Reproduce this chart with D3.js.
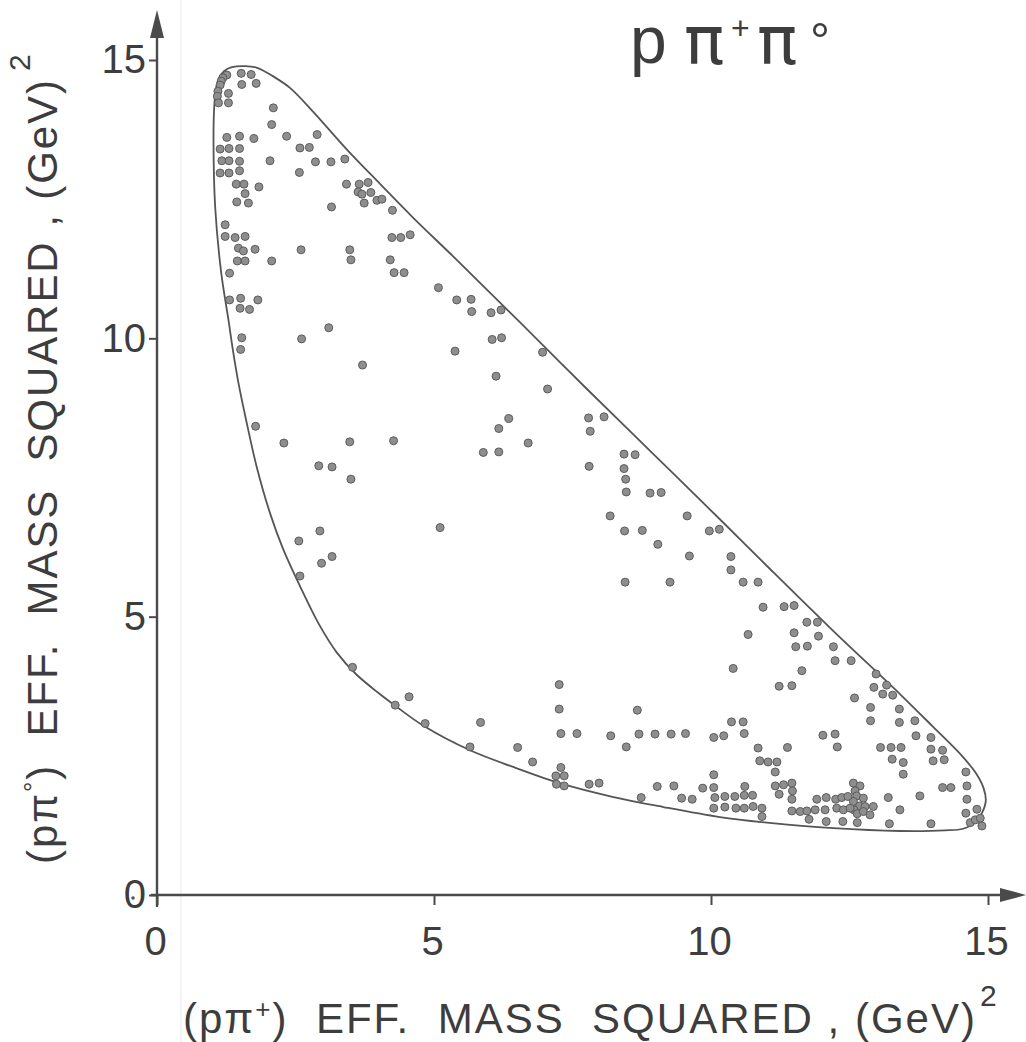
<!DOCTYPE html>
<html>
<head>
<meta charset="utf-8">
<script src="https://cdn.jsdelivr.net/npm/d3@7"></script>
<style>
  html, body { margin: 0; padding: 0; background: #ffffff; }
  svg { display: block; }
  text { font-family: "Liberation Sans", Arial, sans-serif; fill: #3d3d3d; }
</style>
</head>
<body>
<svg id="chart" width="1026" height="1042"></svg>
<script>
// Axis ticks, (GeV)^2
const axisTicks = [0, 5, 10, 15];

// Events: [ M^2(p pi+), M^2(p pi0) ] in (GeV)^2
const events = [
  [1.26,14.73],[1.19,14.68],[1.16,14.62],[1.14,14.55],[1.10,14.44],[1.09,14.35],[1.11,14.23],
  [1.29,14.40],[1.29,14.23],[1.52,14.76],[1.70,14.74],[1.53,14.56],[1.79,14.58],[2.10,14.14],
  [2.07,13.84],[1.26,13.61],[1.49,13.63],[1.75,13.59],[2.34,13.63],[2.89,13.66],[2.58,13.42],
  [2.75,13.43],[1.14,13.40],[1.30,13.41],[1.49,13.41],[1.17,13.19],[1.30,13.19],[1.49,13.18],
  [2.04,13.19],[2.86,13.17],[3.14,13.17],[3.39,13.22],[1.14,12.97],[1.30,12.97],[1.49,13.01],
  [2.57,12.98],[1.43,12.77],[1.57,12.77],[1.84,12.72],[1.59,12.60],[1.44,12.45],[1.65,12.43],
  [3.42,12.77],[3.65,12.77],[3.81,12.80],[3.63,12.63],[3.70,12.59],[3.86,12.62],[3.74,12.43],
  [3.97,12.48],[4.06,12.50],[3.15,12.36],[4.25,12.30],[1.23,12.04],[1.23,11.83],[1.41,11.81],
  [1.59,11.83],[4.24,11.81],[4.40,11.81],[4.57,11.86],[1.47,11.62],[1.56,11.57],[1.77,11.60],
  [2.60,11.59],[3.48,11.59],[3.50,11.41],[1.45,11.39],[1.59,11.39],[2.07,11.39],[4.21,11.41],
  [4.28,11.18],[4.46,11.18],[1.31,11.17],[5.08,10.91],[5.41,10.69],[1.31,10.69],[1.51,10.72],
  [1.82,10.69],[1.50,10.54],[1.67,10.52],[3.10,10.19],[1.53,10.01],[2.61,9.99],[1.51,9.80],
  [5.38,9.77],[3.71,9.52],[1.78,8.42],[2.29,8.12],[3.48,8.14],[4.27,8.16],[2.92,7.71],
  [3.16,7.69],[3.50,7.47],[5.11,6.60],[2.94,6.54],[2.56,6.36],[3.16,6.08],[2.97,5.96],
  [2.58,5.73],[5.67,10.70],[5.68,10.48],[6.03,10.46],[6.21,10.51],[6.05,9.98],[6.22,10.01],
  [6.96,9.75],[6.12,9.32],[7.05,9.09],[6.35,8.56],[6.17,8.38],[6.70,8.12],[5.89,7.95],
  [6.17,7.96],[7.79,8.57],[8.07,8.59],[7.82,8.33],[7.80,7.70],[8.43,7.92],[8.63,7.91],
  [8.43,7.66],[8.46,7.47],[8.47,7.24],[8.90,7.22],[9.10,7.23],[8.18,6.81],[9.57,6.81],
  [8.44,6.54],[8.76,6.55],[9.97,6.54],[10.15,6.57],[9.04,6.30],[9.61,6.09],[10.36,6.08],
  [10.36,5.84],[10.58,5.62],[10.85,5.62],[10.94,5.17],[11.32,5.18],[11.50,5.20],[11.73,4.90],
  [11.92,4.90],[10.67,4.68],[11.50,4.71],[11.94,4.65],[11.53,4.46],[11.74,4.47],[12.21,4.46],
  [12.24,4.21],[12.53,4.21],[10.40,4.07],[11.64,4.03],[12.98,3.97],[12.94,3.73],[13.17,3.77],
  [13.10,3.61],[13.28,3.59],[11.23,3.75],[11.46,3.76],[12.59,3.54],[12.88,3.37],[13.40,3.34],
  [12.88,3.13],[13.40,3.10],[13.68,3.13],[10.37,3.11],[10.58,3.11],[10.05,2.83],[10.23,2.86],
  [10.60,2.90],[13.70,2.86],[13.97,2.83],[12.02,2.87],[12.24,2.89],[10.85,2.64],[11.38,2.65],
  [12.28,2.66],[13.06,2.65],[13.25,2.65],[13.43,2.65],[13.97,2.62],[14.18,2.60],[13.27,2.44],
  [13.47,2.38],[10.88,2.41],[11.03,2.39],[11.19,2.39],[14.01,2.41],[14.21,2.43],[11.16,2.21],
  [13.47,2.17],[10.05,2.16],[14.60,2.21],[9.85,1.92],[10.05,1.93],[10.61,1.95],[11.16,1.96],
  [11.31,1.98],[11.46,2.01],[11.47,1.87],[11.46,1.72],[11.23,1.81],[12.57,2.01],[12.69,1.96],
  [12.60,1.87],[12.63,1.78],[12.57,1.68],[12.68,1.60],[12.58,1.53],[12.64,1.46],[11.91,1.72],
  [12.08,1.75],[12.25,1.72],[12.36,1.75],[12.47,1.77],[13.77,1.78],[13.20,1.75],[14.18,1.93],
  [14.33,1.93],[14.62,1.96],[14.62,1.72],[10.07,1.75],[10.25,1.77],[10.43,1.77],[10.60,1.79],
  [10.75,1.79],[10.05,1.56],[10.25,1.58],[10.45,1.56],[10.60,1.56],[10.76,1.59],[10.92,1.56],
  [10.92,1.41],[11.46,1.51],[11.61,1.50],[11.73,1.51],[11.88,1.53],[12.06,1.53],[12.27,1.56],
  [12.39,1.53],[12.51,1.56],[12.78,1.59],[12.93,1.59],[12.75,1.50],[12.87,1.44],[12.75,1.74],
  [13.41,1.53],[14.60,1.47],[14.80,1.54],[11.77,1.36],[12.08,1.32],[12.38,1.32],[12.64,1.30],
  [13.22,1.28],[13.97,1.28],[14.68,1.30],[14.77,1.35],[14.86,1.38],[14.89,1.24],[4.30,3.41],
  [4.55,3.56],[4.84,3.08],[5.84,3.10],[5.65,2.66],[6.51,2.65],[6.78,2.39],[7.26,3.78],
  [7.26,3.34],[7.29,2.90],[7.58,2.90],[7.29,2.29],[7.20,2.14],[7.35,2.14],[7.21,1.99],
  [7.35,1.96],[7.80,1.99],[7.98,2.01],[8.19,2.86],[8.47,2.66],[8.67,3.32],[8.70,2.89],
  [8.99,2.89],[9.28,2.89],[9.54,2.90],[8.74,1.75],[9.03,1.95],[9.33,1.96],[9.47,1.74],
  [9.66,1.72],[3.53,4.09],[8.45,5.62],[9.26,5.62]
];

// Kinematic boundary of the p pi+ pi0 Dalitz plot, (GeV)^2, traced clockwise
const boundary = [
  [1.02,13.56],[1.03,14.10],[1.06,14.46],[1.12,14.68],[1.21,14.80],[1.35,14.87],[1.59,14.89],
  [1.81,14.86],[2.09,14.71],[2.40,14.50],[2.82,14.07],[3.42,13.40],[4.03,12.77],[4.63,12.16],
  [5.41,11.41],[6.55,10.29],[7.76,9.09],[8.96,7.92],[10.16,6.75],[11.01,5.91],[12.21,4.74],
  [13.41,3.61],[14.01,3.02],[14.53,2.50],[14.78,2.19],[14.92,1.92],[14.96,1.69],[14.89,1.47],
  [14.77,1.30],[14.55,1.19],[14.22,1.16],[13.41,1.15],[12.21,1.20],[11.01,1.30],[10.16,1.40],
  [9.14,1.58],[8.24,1.76],[7.27,2.01],[6.43,2.30],[5.65,2.60],[4.81,3.04],[4.30,3.40],
  [3.97,3.65],[3.59,3.97],[3.25,4.35],[2.92,4.87],[2.58,5.55],[2.27,6.23],[2.04,6.86],
  [1.80,7.69],[1.62,8.48],[1.47,9.20],[1.37,9.79],[1.29,10.33],[1.16,11.17],[1.05,12.36]
];

const ink = "#4a4a4a";
const svg = d3.select("#chart");

const x = d3.scaleLinear().domain([0, 15]).range([157, 988]);
const y = d3.scaleLinear().domain([0, 15]).range([895, 60]);

// faint vertical crease in the paper
svg.append("line")
  .attr("x1", 181).attr("x2", 181).attr("y1", 0).attr("y2", 1042)
  .attr("stroke", "#ececec").attr("stroke-width", 1.2);

// axis lines with arrowheads
svg.append("line")
  .attr("x1", x(0) - 6).attr("x2", 1008)
  .attr("y1", y(0)).attr("y2", y(0))
  .attr("stroke", ink).attr("stroke-width", 2.4);
svg.append("line")
  .attr("x1", x(0)).attr("x2", x(0))
  .attr("y1", y(0) + 12).attr("y2", 30)
  .attr("stroke", ink).attr("stroke-width", 2.4);
svg.append("path")
  .attr("d", `M1026,${y(0)} L1000,${y(0) - 7} L1000,${y(0) + 7} Z`)
  .attr("fill", ink);
svg.append("path")
  .attr("d", `M${x(0)},10 L${x(0) - 7},38 L${x(0) + 7},38 Z`)
  .attr("fill", ink);

// tick marks and labels
const xAxis = svg.append("g")
  .attr("transform", `translate(0,${y(0)})`)
  .call(d3.axisBottom(x).tickValues(axisTicks).tickSize(10).tickPadding(22).tickFormat(d3.format("d")));
const yAxis = svg.append("g")
  .attr("transform", `translate(${x(0)},0)`)
  .call(d3.axisLeft(y).tickValues(axisTicks).tickSize(8).tickPadding(3).tickFormat(d3.format("d")));
[xAxis, yAxis].forEach(g => {
  g.select(".domain").remove();
  g.selectAll(".tick line").attr("stroke", ink).attr("stroke-width", 2);
  g.selectAll(".tick text")
    .attr("font-size", 40)
    .attr("fill", "#3d3d3d");
});
xAxis.selectAll(".tick text").attr("x", -2);
// small dot printed before the vertical-axis zero
svg.append("circle").attr("cx", 133).attr("cy", y(0) + 3).attr("r", 1.8).attr("fill", "#555");

// Dalitz boundary
svg.append("path")
  .datum(boundary)
  .attr("d", d3.line()
    .x(d => x(d[0]))
    .y(d => y(d[1]))
    .curve(d3.curveCatmullRomClosed.alpha(0.5)))
  .attr("fill", "none")
  .attr("stroke", "#555")
  .attr("stroke-width", 1.8);

// events
svg.append("g")
  .selectAll("circle")
  .data(events)
  .join("circle")
  .attr("cx", d => x(d[0]))
  .attr("cy", d => y(d[1]))
  .attr("r", 4)
  .attr("fill", "#8e8e8e")
  .attr("stroke", "#5c5c5c")
  .attr("stroke-width", 1);

// channel label: p pi+ pi0
const channel = svg.append("g");
const piFont = "'DejaVu Sans', sans-serif";
channel.append("text").attr("x", 630).attr("y", 63).attr("font-size", 66).text("p");
channel.append("text").attr("x", 684).attr("y", 64).style("font-family", piFont).attr("font-size", 67).text("π");
channel.append("text").attr("x", 731).attr("y", 39).attr("font-size", 32).text("+");
channel.append("text").attr("x", 757).attr("y", 64).style("font-family", piFont).attr("font-size", 67).text("π");
channel.append("text").attr("x", 810).attr("y", 58).attr("font-size", 50).text("°");

// x-axis title
const xt = svg.append("text")
  .attr("x", 183).attr("y", 1033)
  .attr("font-size", 42)
  .attr("xml:space", "preserve")
  .attr("textLength", 792)
  .attr("lengthAdjust", "spacing");
xt.append("tspan").text("(pπ");
xt.append("tspan").attr("font-size", 26).attr("dy", -15).text("+");
xt.append("tspan").attr("dy", 15).text(")  EFF.  MASS  SQUARED , (GeV)");
svg.append("text")
  .attr("x", 980).attr("y", 1006)
  .attr("font-size", 30)
  .text("2");

// y-axis title
const yt = svg.append("g").attr("transform", "translate(57,864) rotate(-90)");
yt.append("text")
  .attr("x", 0).attr("y", 0)
  .attr("font-size", 42)
  .attr("xml:space", "preserve")
  .attr("textLength", 784)
  .attr("lengthAdjust", "spacing")
  .call(t => {
    t.append("tspan").text("(pπ");
    t.append("tspan").attr("font-size", 26).attr("dy", -15).text("°");
    t.append("tspan").attr("dy", 15).text(")  EFF.  MASS  SQUARED , (GeV)");
  });
yt.append("text")
  .attr("x", 793).attr("y", -27)
  .attr("font-size", 30)
  .text("2");
</script>
</body>
</html>
